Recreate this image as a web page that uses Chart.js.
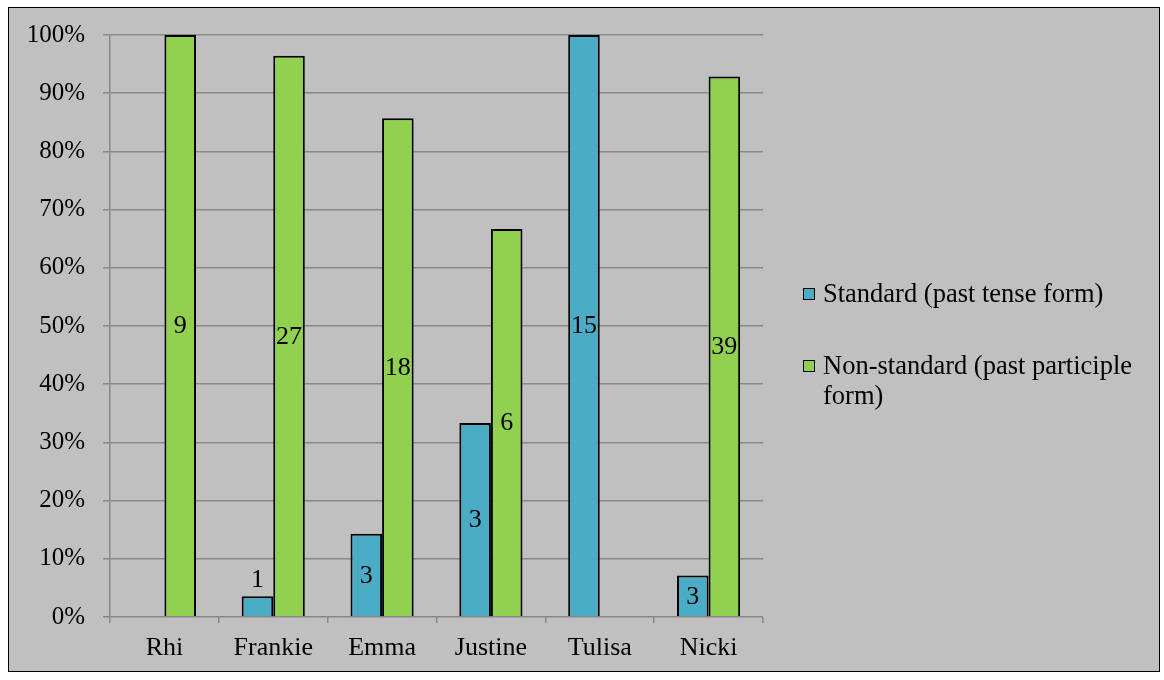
<!DOCTYPE html>
<html>
<head>
<meta charset="utf-8">
<script src="https://cdn.jsdelivr.net/npm/chart.js@4.4.1/dist/chart.umd.min.js"></script>
<style>
    body { margin: 0; background: #ffffff; }
    #frame {
        position: absolute; left: 8px; top: 7px;
        width: 1150px; height: 663px;
        border: 1.5px solid #000;
        background: #c0c0c0;
    }
    #chart { position: absolute; left: 0; top: 0; }
    #legend {
        position: absolute; left: 794px; top: 270px; width: 345px;
        font-family: "Liberation Serif", "Times New Roman", serif;
        font-size: 26.5px; color: #000; line-height: 30px;
    }
    .item { position: relative; padding-left: 20px; margin-bottom: 42px; }
    .swatch {
        position: absolute; left: 0; top: 10px;
        width: 10px; height: 10px; border: 1.5px solid #000;
    }
</style>
</head>
<body>
<div id="frame">
    <canvas id="chart" width="1150" height="663"></canvas>
    <div id="legend"></div>
</div>
<script>
// token counts per speaker
const speakers = ['Rhi', 'Frankie', 'Emma', 'Justine', 'Tulisa', 'Nicki'];
const standardCounts = [0, 1, 3, 3, 15, 3];
const nonStandardCounts = [9, 27, 18, 6, 0, 39];
const seriesNames = ['Standard (past tense form)', 'Non-standard (past participle form)'];
const seriesColors = ['#4bacc6', '#92d050'];

const totals = speakers.map((s, i) => standardCounts[i] + nonStandardCounts[i]);
const toPercent = counts => counts.map((c, i) => c / totals[i] * 100);

const serif = '"Liberation Serif", "Times New Roman", serif';

// writes the raw count on each bar; short bars get the number above them
const countLabels = {
    id: 'countLabels',
    afterDatasetsDraw(chart) {
        const ctx = chart.ctx;
        ctx.save();
        ctx.font = '26px ' + serif;
        ctx.fillStyle = '#000';
        ctx.textAlign = 'center';
        chart.data.datasets.forEach((ds, di) => {
            const meta = chart.getDatasetMeta(di);
            meta.data.forEach((bar, i) => {
                const count = ds.counts[i];
                if (!count) return;
                const h = bar.base - bar.y;
                if (h < 30) {
                    ctx.textBaseline = 'bottom';
                    ctx.fillText(count, bar.x, bar.y - 3);
                } else {
                    ctx.textBaseline = 'middle';
                    ctx.fillText(count, bar.x, (bar.y + bar.base) / 2 + 1);
                }
            });
        });
        ctx.restore();
    }
};

const ctx = document.getElementById('chart').getContext('2d');
new Chart(ctx, {
    type: 'bar',
    data: {
        labels: speakers,
        datasets: [
            {
                label: seriesNames[0],
                data: toPercent(standardCounts),
                counts: standardCounts,
                backgroundColor: seriesColors[0],
                borderColor: '#000',
                borderWidth: 2
            },
            {
                label: seriesNames[1],
                data: toPercent(nonStandardCounts),
                counts: nonStandardCounts,
                backgroundColor: seriesColors[1],
                borderColor: '#000',
                borderWidth: 2
            }
        ]
    },
    options: {
        responsive: false,
        animation: false,
        categoryPercentage: 0.58,
        barPercentage: 1.0,
        layout: { padding: { top: 27, right: 396, left: 0, bottom: 0 } },
        scales: {
            x: {
                grid: { drawOnChartArea: false, drawTicks: true, tickLength: 6, color: '#888', lineWidth: 1.5 },
                border: { display: false },
                ticks: { color: '#000', font: { family: serif, size: 26 }, padding: 10 },
                afterFit: scale => { scale.height = 54; }
            },
            y: {
                min: 0,
                max: 100,
                grid: { color: '#888', lineWidth: 1.5, tickLength: 7 },
                border: { color: '#888', width: 1.5 },
                ticks: {
                    stepSize: 10,
                    color: '#000',
                    font: { family: serif, size: 25 },
                    padding: 18,
                    callback: v => v + '%'
                },
                afterFit: scale => {
                    scale.width = 101;
                    scale.paddingTop = 0;
                    scale.paddingBottom = 0;
                }
            }
        },
        plugins: {
            legend: { display: false },
            tooltip: { enabled: false }
        }
    },
    plugins: [countLabels]
});

// legend on the right
const legend = document.getElementById('legend');
seriesNames.forEach((name, i) => {
    const item = document.createElement('div');
    item.className = 'item';
    const sw = document.createElement('span');
    sw.className = 'swatch';
    sw.style.background = seriesColors[i];
    item.appendChild(sw);
    item.appendChild(document.createTextNode(name));
    legend.appendChild(item);
});
</script>
</body>
</html>
